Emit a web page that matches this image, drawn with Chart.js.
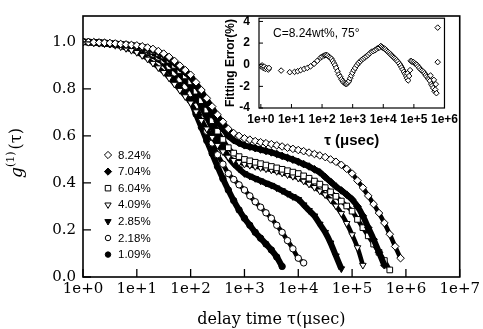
<!DOCTYPE html>
<html><head><meta charset="utf-8">
<script src="https://cdn.jsdelivr.net/npm/chart.js@4.4.1/dist/chart.umd.min.js"></script>
<style>
html,body{margin:0;padding:0;background:#fff;}
#wrap{position:relative;width:483px;height:329px;overflow:hidden;}
#main{position:absolute;left:0;top:0;}
#inset{position:absolute;left:212px;top:2px;}
</style></head><body>
<div id="wrap"><canvas id="main" width="483" height="329"></canvas><canvas id="inset" width="250" height="148"></canvas></div>
<script>
// ---------- DATA ----------
const tau = [1,1.259,1.585,1.995,2.512,3.162,3.981,5.012,6.31,7.943,
10,12.59,15.85,19.95,25.12,31.62,39.81,50.12,63.1,79.43,
100,125.9,158.5,199.5,251.2,316.2,398.1,501.2,631,794.3,
1000,1259,1585,1995,2512,3162,3981,5012,6310,7943,
10000,12590,15850,19950,25120,31620,39810,50120,63100,79430,
100000,125900,158500,199500,251200,316200,398100,501200,631000,794300,1000000];

const seriesLabels = ['8.24%','7.04%','6.04%','4.09%','2.85%','2.18%','1.09%'];

const g824 = [1.000,0.999,0.998,0.997,0.996,0.995,0.993,0.991,0.989,0.987,
0.985,0.981,0.976,0.970,0.961,0.950,0.936,0.919,0.899,0.880,
0.860,0.828,0.795,0.760,0.725,0.690,0.660,0.630,0.612,0.600,
0.590,0.584,0.578,0.573,0.569,0.565,0.560,0.555,0.550,0.545,
0.540,0.535,0.529,0.523,0.517,0.510,0.500,0.490,0.477,0.460,
0.440,0.410,0.380,0.345,0.310,0.272,0.230,0.182,0.130,0.080];
const g704 = [1.000,0.999,0.998,0.997,0.996,0.994,0.992,0.990,0.988,0.986,
0.983,0.979,0.973,0.966,0.957,0.945,0.929,0.910,0.890,0.870,
0.850,0.815,0.780,0.740,0.700,0.660,0.630,0.600,0.582,0.570,
0.560,0.554,0.548,0.542,0.536,0.530,0.523,0.515,0.507,0.499,
0.490,0.480,0.470,0.458,0.445,0.425,0.405,0.385,0.368,0.350,
0.330,0.300,0.260,0.210,0.160,0.105,0.050];
const g604 = [1.000,0.999,0.998,0.997,0.995,0.993,0.991,0.989,0.987,0.984,
0.980,0.975,0.968,0.960,0.951,0.940,0.922,0.900,0.878,0.855,
0.830,0.790,0.750,0.710,0.665,0.620,0.585,0.550,0.527,0.512,
0.500,0.494,0.488,0.482,0.476,0.470,0.464,0.458,0.452,0.446,
0.440,0.430,0.420,0.408,0.395,0.380,0.362,0.343,0.323,0.302,
0.280,0.245,0.210,0.175,0.140,0.105,0.070,0.030];
const g409 = [1.000,0.998,0.996,0.994,0.992,0.990,0.985,0.979,0.972,0.964,
0.955,0.942,0.927,0.909,0.890,0.870,0.846,0.820,0.794,0.767,
0.740,0.703,0.666,0.630,0.594,0.560,0.533,0.510,0.496,0.487,
0.480,0.475,0.470,0.465,0.460,0.455,0.449,0.442,0.435,0.428,
0.420,0.408,0.395,0.381,0.366,0.350,0.328,0.302,0.270,0.228,
0.180,0.125,0.050];
const g285 = [1.000,0.999,0.998,0.996,0.994,0.992,0.990,0.988,0.985,0.982,
0.980,0.973,0.965,0.955,0.943,0.930,0.910,0.888,0.863,0.837,
0.810,0.768,0.725,0.680,0.635,0.590,0.550,0.510,0.482,0.460,
0.440,0.429,0.419,0.409,0.399,0.390,0.379,0.367,0.355,0.342,
0.330,0.307,0.283,0.260,0.225,0.190,0.145,0.090,0.035];
const g218 = [1.000,0.999,0.998,0.996,0.994,0.992,0.990,0.987,0.984,0.981,
0.978,0.970,0.960,0.948,0.935,0.920,0.895,0.868,0.840,0.810,
0.780,0.727,0.673,0.620,0.570,0.520,0.480,0.440,0.415,0.392,
0.370,0.345,0.320,0.297,0.273,0.250,0.220,0.190,0.155,0.120,
0.080,0.060];
const g109 = [1.000,0.999,0.997,0.995,0.993,0.991,0.989,0.986,0.983,0.979,
0.975,0.966,0.955,0.942,0.927,0.910,0.880,0.848,0.815,0.783,
0.750,0.693,0.637,0.580,0.525,0.470,0.418,0.370,0.325,0.285,
0.250,0.220,0.190,0.165,0.140,0.115,0.085,0.045];

const xTickValues = [1,10,100,1000,10000,100000,1000000,10000000];
const xTickLabels = ['1e+0','1e+1','1e+2','1e+3','1e+4','1e+5','1e+6','1e+7'];
const yTickValues = [0,0.2,0.4,0.6,0.8,1.0];
const yTickLabels = ['0.0','0.2','0.4','0.6','0.8','1.0'];

// inset: fitting error
const insetTau = [1.0,1.1,1.2,1.3,1.4,1.55,1.75,1.85,4.6,8.8,12.6,16,20,26,33,42,55,70,90,100,115,125,137,150,167,185,204,222,243,265,290,320,353,390,430,470,510,560,605,650,700,760,830,900,980,1080,1200,1370,1540,1750,1970,2200,2500,2800,3200,3600,4100,4700,5300,6000,6800,7500,8300,9000,9800,10800,11700,12900,14300,15800,17400,19000,20600,22500,24500,27000,29800,33000,36500,40000,43300,47000,51500,56000,59800,62000,65000,70000,75000,79000,85000,96000,105000,115000,125000,137000,150000,168000,185000,205000,225000,243000,265000,290000,310000,335000,350000,370000,400000,430000,450000,475000,500000,520000,545000,600000,600000];
const insetErr = [-0.15,-0.06,-0.3,-0.18,-0.39,-0.3,-0.45,-0.3,-0.54,-0.69,-0.66,-0.6,-0.5,-0.39,-0.3,-0.15,0.09,0.36,0.66,0.75,0.84,0.88,0.9,0.85,0.75,0.65,0.54,0.35,0.15,-0.05,-0.3,-0.6,-0.9,-1.1,-1.34,-1.5,-1.64,-1.72,-1.79,-1.75,-1.64,-1.5,-1.25,-1.0,-0.75,-0.5,-0.3,-0.05,0.15,0.3,0.45,0.55,0.66,0.78,0.9,1.05,1.19,1.25,1.34,1.45,1.55,1.6,1.73,1.65,1.55,1.5,1.43,1.3,1.19,1.08,0.96,0.85,0.75,0.65,0.54,0.42,0.3,0.12,-0.06,-0.25,-0.45,-0.65,-0.84,-1.05,-1.25,-0.8,-1.45,-1.04,-0.5,0.36,0.3,0.24,0.15,0.06,0.0,-0.15,-0.3,-0.45,-0.55,-0.66,-0.8,-0.96,-1.1,-1.25,-1.35,-1.49,-1.0,-1.79,-1.95,-2.15,-1.4,-2.45,-2.3,-1.8,-2.63,3.43,0.24];
const insetXTicks = [1,10,100,1000,10000,100000,1000000];
const insetXLabels = ['1e+0','1e+1','1e+2','1e+3','1e+4','1e+5','1e+6'];
const insetYTicks = [-4,-2,0,2,4];
const insetYLabels = ['-4','-2','0','2','4'];

// ---------- STYLE ----------
const markerStyles = [
  {cj:'rectRot', shape:'diamond', filled:false, r:3.8, rot:0},
  {cj:'rectRot', shape:'diamond', filled:true,  r:3.8, rot:0},
  {cj:'rect',    shape:'square',  filled:false, r:4.0, rot:0},
  {cj:'triangle',shape:'tri',     filled:false, r:3.8, rot:180},
  {cj:'triangle',shape:'tri',     filled:true,  r:3.8, rot:180},
  {cj:'circle',  shape:'circle',  filled:false, r:3.2, rot:0},
  {cj:'circle',  shape:'circle',  filled:true,  r:3.2, rot:0}
];
const allSeries = [g824,g704,g604,g409,g285,g218,g109];

const datasets = allSeries.map((ys,i)=>{
  const st = markerStyles[i];
  return {
    label: seriesLabels[i],
    data: ys.map((v,k)=>({x:tau[k], y:v})),
    showLine:true,
    borderColor:'#000',
    borderWidth: st.filled ? 6 : 4.5,
    tension:0.3,
    pointStyle: st.cj,
    pointRotation: st.rot,
    pointRadius: st.r,
    pointBorderWidth: 1,
    pointBorderColor:'#000',
    pointBackgroundColor: st.filled ? '#000' : '#fff'
  };
});

function drawMarker(ctx, st, x, y){
  ctx.save();
  ctx.beginPath();
  const r = st.r*0.95;
  if(st.shape==='diamond'){ ctx.moveTo(x,y-r); ctx.lineTo(x+r,y); ctx.lineTo(x,y+r); ctx.lineTo(x-r,y); ctx.closePath(); }
  else if(st.shape==='square'){ const s=r*0.72; ctx.rect(x-s,y-s,2*s,2*s); }
  else if(st.shape==='tri'){ ctx.moveTo(x-r*0.87,y-r*0.5); ctx.lineTo(x+r*0.87,y-r*0.5); ctx.lineTo(x,y+r); ctx.closePath(); }
  else { ctx.arc(x,y,r*0.9,0,Math.PI*2); }
  ctx.fillStyle = st.filled ? '#000' : '#fff';
  ctx.fill();
  ctx.lineWidth = 1; ctx.strokeStyle = '#000'; ctx.stroke();
  ctx.restore();
}

const SERIF = 'DejaVu Serif';
const SANS = 'Liberation Sans';

const mainDecor = {
  id:'mainDecor',
  afterDraw(chart){
    const ctx = chart.ctx, a = chart.chartArea;
    const xs = chart.scales.x, ys = chart.scales.y;
    ctx.save();
    ctx.strokeStyle = '#000';
    ctx.lineWidth = 1.6;
    ctx.strokeRect(a.left, a.top, a.right-a.left, a.bottom-a.top);
    ctx.lineWidth = 1.3;
    ctx.beginPath();
    xTickValues.forEach(v=>{ const p = xs.getPixelForValue(v); ctx.moveTo(p,a.bottom); ctx.lineTo(p,a.bottom-8); });
    yTickValues.forEach(v=>{ const p = ys.getPixelForValue(v); ctx.moveTo(a.left,p); ctx.lineTo(a.left+8,p); });
    ctx.stroke();
    // y title g^(1)(tau)
    ctx.translate(17,153);
    ctx.rotate(-Math.PI/2);
    ctx.fillStyle = '#000';
    ctx.textBaseline = 'middle';
    const f1 = 'italic 17px '+SERIF, f2 = '11px '+SERIF, f3 = '16px '+SERIF;
    ctx.font = f1; const w1 = ctx.measureText('g').width;
    ctx.font = f2; const w2 = ctx.measureText('(1)').width;
    ctx.font = f3; const w3 = ctx.measureText('(τ)').width;
    let x0 = -(w1+w2+w3+2)/2;
    ctx.font = f1; ctx.fillText('g', x0, 1); x0 += w1;
    ctx.font = f2; ctx.fillText('(1)', x0, -6); x0 += w2+2;
    ctx.font = f3; ctx.fillText('(τ)', x0, 0);
    ctx.restore();
    // legend
    ctx.save();
    ctx.font = '11.5px '+SANS;
    ctx.fillStyle = '#000';
    ctx.textBaseline = 'middle';
    seriesLabels.forEach((lab,i)=>{
      const y = 155 + i*16.6;
      drawMarker(ctx, markerStyles[i], 108, y);
      ctx.fillText(lab, 118, y+0.5);
    });
    ctx.restore();
  }
};

new Chart(document.getElementById('main'), {
  type:'scatter',
  data:{datasets},
  plugins:[mainDecor],
  options:{
    responsive:false, animation:false, devicePixelRatio:1,
    layout:{padding:{left:0, top:13, right:21, bottom:0}},
    plugins:{legend:{display:false}, tooltip:{enabled:false}},
    scales:{
      x:{
        type:'logarithmic', min:1, max:1e7,
        afterBuildTicks:s=>{ s.ticks = xTickValues.map(v=>({value:v})); },
        afterFit:s=>{ s.height = 52; },
        grid:{display:false, drawTicks:false},
        border:{display:false},
        ticks:{autoSkip:false, maxRotation:0, padding:3, color:'#000',
          font:{family:SERIF, size:15},
          callback:(v,i)=>xTickLabels[i]},
        title:{display:true, text:'delay time τ(μsec)', color:'#000',
          font:{family:SERIF, size:16}, padding:{top:0,bottom:0}}
      },
      y:{
        type:'linear', min:0, max:1.11,
        afterBuildTicks:s=>{ s.ticks = yTickValues.map(v=>({value:v})); },
        afterFit:s=>{ s.width = 83; },
        grid:{display:false, drawTicks:false},
        border:{display:false},
        ticks:{padding:7, color:'#000', font:{family:SERIF, size:15},
          callback:(v,i)=>yTickLabels[i]}
      }
    }
  }
});

// ---------- INSET ----------
const insetDecor = {
  id:'insetDecor',
  afterDraw(chart){
    const ctx = chart.ctx, a = chart.chartArea;
    const xs = chart.scales.x, ys = chart.scales.y;
    ctx.save();
    ctx.strokeStyle = '#000';
    ctx.lineWidth = 1.2;
    ctx.strokeRect(a.left, a.top, a.right-a.left, a.bottom-a.top);
    ctx.lineWidth = 1;
    ctx.beginPath();
    insetXTicks.forEach(v=>{ const p = xs.getPixelForValue(v); ctx.moveTo(p,a.bottom); ctx.lineTo(p,a.bottom-4); });
    insetYTicks.forEach(v=>{ const p = ys.getPixelForValue(v); ctx.moveTo(a.left,p); ctx.lineTo(a.left+4,p); });
    ctx.stroke();
    ctx.fillStyle = '#000';
    ctx.font = '12px '+SANS;
    ctx.textBaseline = 'middle';
    ctx.fillText('C=8.24wt%, 75°', a.left+14, 32);
    ctx.restore();
  }
};

new Chart(document.getElementById('inset'), {
  type:'scatter',
  data:{datasets:[{
    label:'Fitting Error',
    data: insetTau.map((t,i)=>({x:t, y:insetErr[i]})),
    showLine:false, pointStyle:'rectRot', pointRadius:2.8, pointBorderWidth:1,
    pointBorderColor:'#000', pointBackgroundColor:'#fff'
  }]},
  plugins:[insetDecor],
  options:{
    responsive:false, animation:false, devicePixelRatio:1,
    layout:{padding:{left:0, top:15, right:15, bottom:0}},
    plugins:{legend:{display:false}, tooltip:{enabled:false}},
    scales:{
      x:{
        type:'logarithmic', min:0.87, max:1e6,
        afterBuildTicks:s=>{ s.ticks = insetXTicks.map(v=>({value:v})); },
        afterFit:s=>{ s.height = 42; },
        grid:{display:false, drawTicks:false},
        border:{display:false},
        ticks:{autoSkip:false, maxRotation:0, padding:4, color:'#000',
          font:{family:SANS, size:12, weight:'bold'},
          callback:(v,i)=>insetXLabels[i]},
        title:{display:true, text:'τ (μsec)', color:'#000',
          font:{family:SANS, size:15, weight:'bold'}, padding:{top:0,bottom:0}}
      },
      y:{
        type:'linear', min:-4, max:4.3,
        afterBuildTicks:s=>{ s.ticks = insetYTicks.map(v=>({value:v})); },
        afterFit:s=>{ s.width = 47; },
        grid:{display:false, drawTicks:false},
        border:{display:false},
        ticks:{padding:9, color:'#000', font:{family:SANS, size:12, weight:'bold'},
          callback:(v,i)=>insetYLabels[i]},
        title:{display:true, text:'Fitting Error(%)', color:'#000',
          font:{family:SANS, size:12, weight:'bold'}, padding:{top:11,bottom:0}}
      }
    }
  }
});
</script>
</body></html>
